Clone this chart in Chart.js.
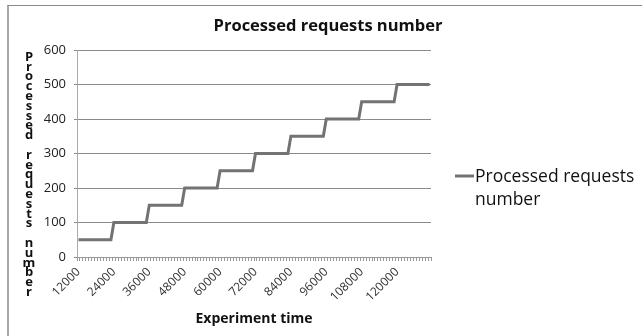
<!DOCTYPE html>
<html>
<head>
<meta charset="utf-8">
<script src="https://cdn.jsdelivr.net/npm/chart.js@4"></script>
<style>
  html, body { margin: 0; padding: 0; background: #fff; }
  #wrap { position: relative; width: 642px; height: 336px; }
  #frame { position: absolute; left: 7px; top: 5px; right: 0; bottom: 0;
           border-top: 1px solid #8a8a8a; border-left: 2px solid #a8a8a8; pointer-events: none; }
</style>
</head>
<body>
<div id="wrap">
  <canvas id="chart" width="642" height="336"></canvas>
  <div id="frame"></div>
</div>
<script>
// Experiment time (ms), one category per sample
const times = [
    12000, 13000, 14000, 15000, 16000, 17000, 18000, 19000, 20000, 21000, 22000, 23000,
    24000, 25000, 26000, 27000, 28000, 29000, 30000, 31000, 32000, 33000, 34000, 35000,
    36000, 37000, 38000, 39000, 40000, 41000, 42000, 43000, 44000, 45000, 46000, 47000,
    48000, 49000, 50000, 51000, 52000, 53000, 54000, 55000, 56000, 57000, 58000, 59000,
    60000, 61000, 62000, 63000, 64000, 65000, 66000, 67000, 68000, 69000, 70000, 71000,
    72000, 73000, 74000, 75000, 76000, 77000, 78000, 79000, 80000, 81000, 82000, 83000,
    84000, 85000, 86000, 87000, 88000, 89000, 90000, 91000, 92000, 93000, 94000, 95000,
    96000, 97000, 98000, 99000, 100000, 101000, 102000, 103000, 104000, 105000, 106000, 107000,
    108000, 109000, 110000, 111000, 112000, 113000, 114000, 115000, 116000, 117000, 118000, 119000,
    120000, 121000, 122000, 123000, 124000, 125000, 126000, 127000, 128000, 129000, 130000, 131000
];

// Processed requests at each sample
const processed = [
    50, 50, 50, 50, 50, 50, 50, 50, 50, 50, 50, 50,
    100, 100, 100, 100, 100, 100, 100, 100, 100, 100, 100, 100,
    150, 150, 150, 150, 150, 150, 150, 150, 150, 150, 150, 150,
    200, 200, 200, 200, 200, 200, 200, 200, 200, 200, 200, 200,
    250, 250, 250, 250, 250, 250, 250, 250, 250, 250, 250, 250,
    300, 300, 300, 300, 300, 300, 300, 300, 300, 300, 300, 300,
    350, 350, 350, 350, 350, 350, 350, 350, 350, 350, 350, 350,
    400, 400, 400, 400, 400, 400, 400, 400, 400, 400, 400, 400,
    450, 450, 450, 450, 450, 450, 450, 450, 450, 450, 450, 450,
    500, 500, 500, 500, 500, 500, 500, 500, 500, 500, 500, 500
];

// Only every 12th category gets a label
const labelEvery = 12;
const yTicks = [0, 100, 200, 300, 400, 500, 600];

const chartTitle = "Processed requests number";
const seriesName = "Processed requests number";
const yTitle = "Processed requests number";
const xTitle = "Experiment time";

const FONT = "'Open Sans', sans-serif";
const lineColor = "#737373";

// Draws the title, the stacked y axis title and the wrapped legend
const extras = {
    id: "extras",
    afterDraw(chart) {
        const ctx = chart.ctx;
        ctx.save();
        ctx.fillStyle = "#111";
        ctx.textAlign = "center";
        ctx.textBaseline = "middle";
        ctx.font = "bold 16.5px " + FONT;
        ctx.fillText(chartTitle, 328, 26);

        // Excel-style stacked letters
        ctx.font = "bold 13px " + FONT;
        [...yTitle].forEach((ch, i) => {
            ctx.fillText(ch, 29, 57 + i * 9.8);
        });

        // Legend, text wrapped on two lines
        const ds = chart.data.datasets[0];
        ctx.strokeStyle = ds.borderColor;
        ctx.lineWidth = 3;
        ctx.beginPath();
        ctx.moveTo(455, 176);
        ctx.lineTo(474, 176);
        ctx.stroke();
        ctx.textAlign = "left";
        ctx.fillStyle = "#111";
        ctx.font = "17.5px " + FONT;
        const words = ds.label.split(" ");
        ctx.fillText(words.slice(0, 2).join(" "), 475, 177);
        ctx.fillText(words.slice(2).join(" "), 475, 200);
        ctx.restore();
    }
};

new Chart(document.getElementById("chart"), {
    type: "line",
    data: {
        labels: times,
        datasets: [{
            label: seriesName,
            data: processed,
            borderColor: lineColor,
            backgroundColor: lineColor,
            borderWidth: 3,
            pointRadius: 0,
            tension: 0
        }]
    },
    options: {
        responsive: false,
        animation: false,
        layout: { padding: { left: 30, right: 211, top: 50, bottom: 0 } },
        plugins: {
            legend: { display: false },
            tooltip: { enabled: false }
        },
        scales: {
            x: {
                offset: true,
                afterFit(scale) { scale.height = 79; },
                grid: {
                    offset: true,
                    drawOnChartArea: false,
                    drawTicks: true,
                    tickLength: 4,
                    color: "#999"
                },
                border: { color: "#999", width: 1 },
                ticks: {
                    autoSkip: false,
                    minRotation: 45,
                    maxRotation: 45,
                    padding: 4,
                    color: "#333",
                    font: { family: FONT, size: 12 },
                    callback(value, index) {
                        return index % labelEvery === 0 ? String(times[index]) : "";
                    }
                },
                title: {
                    display: true,
                    text: xTitle,
                    color: "#111",
                    font: { family: FONT, size: 14, weight: "bold" },
                    padding: { top: 0, bottom: 9 }
                }
            },
            y: {
                min: yTicks[0],
                max: yTicks[yTicks.length - 1],
                afterFit(scale) { scale.width = 47; },
                afterBuildTicks(scale) { scale.ticks = yTicks.map(v => ({ value: v })); },
                grid: {
                    color: "#8a8a8a",
                    lineWidth: 1,
                    tickLength: 3
                },
                border: { color: "#aaa", width: 1 },
                ticks: {
                    padding: 8,
                    color: "#222",
                    font: { family: FONT, size: 13 }
                }
            }
        }
    },
    plugins: [extras]
});
</script>
</body>
</html>
